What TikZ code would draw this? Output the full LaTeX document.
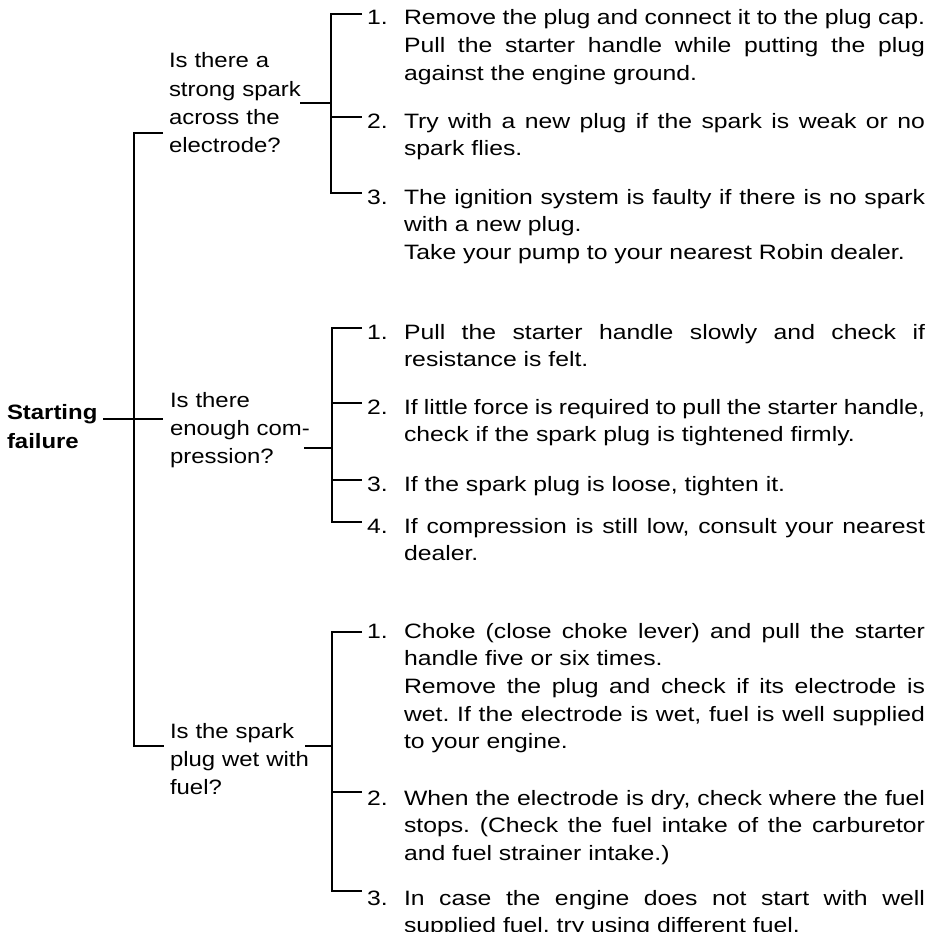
\documentclass[tikz,border=0pt]{standalone}
\usepackage{fontspec}
\newfontfamily\diagfont[FakeStretch=1.15]{Liberation Sans}
\newfontfamily\stepfont[FakeStretch=1.19]{Liberation Sans}
\usetikzlibrary{calc}
\newlength{\stepw}
\setlength{\stepw}{260.5pt}
\newcommand{\plainsp}{\spaceskip=0pt\xspaceskip=0pt\frenchspacing}
\newcommand{\jl}[1]{{\plainsp\makebox[\stepw][s]{#1}}}
\tikzset{
  txt/.style={inner sep=0pt,outer sep=0pt,anchor=base west,
    font=\stepfont\fontsize{10.4pt}{13.85pt}\selectfont},
  question/.style={txt,text width=#1,align=left,
    font=\diagfont\fontsize{10.4pt}{14.1pt}\selectfont},
  stepitem/.style={txt,text width=\stepw,align=justify,
    execute at begin node=\plainsp},
  rootbox/.style={txt,text width=45pt,align=left,
    font=\diagfont\bfseries\fontsize{10.4pt}{14.5pt}\selectfont}
}
\begin{document}
\begin{tikzpicture}[x=0.5pt,y=-0.5pt,line width=0.9pt]
		\useasboundingbox (0,0) rectangle (941,931);
		\node[rootbox] (start) at (7,419) {\mbox{Starting}\\\mbox{failure}};
		\node[question=65.5pt] (q1) at (169,68) {\mbox{Is there a}\\\mbox{strong spark}\\\mbox{across the}\\\mbox{electrode?}};
		\node[question=69pt] (q2) at (170,407) {\mbox{Is there}\\\mbox{enough com-}\\\mbox{pression?}};
		\node[question=68.5pt] (q3) at (170,738) {\mbox{Is the spark}\\\mbox{plug wet with}\\\mbox{fuel?}};
		\coordinate (j1) at (134,133);
		\coordinate (j3) at (134,746);
		\coordinate (b1) at (331,103);
		\coordinate (b2) at (332,448);
		\coordinate (b3) at (332,746);
		\draw ([xshift=-3pt]q1.west |- j1) -- (j1) -- (j3) -- ([xshift=-3pt]q3.west |- j3);
		\draw ([xshift=3pt]start.base east) -- ([xshift=-3.5pt]q2.west |- start.base);
		\draw (q1.east |- b1) -- (b1);
		\draw ([xshift=-2pt]q2.east |- b2) -- (b2);
		\draw ([xshift=-1pt]q3.east |- b3) -- (b3);
		% spark
		\node[txt] (n11) at (367,25) {1.};
		\node[stepitem] (s11) at (404,25) {Remove the plug and connect it to the plug cap.\\
			\jl{Pull the starter handle while putting the plug}\\
			against the engine ground.};
		\node[txt] (n12) at (367,128) {2.};
		\node[stepitem] (s12) at (404,128) {\jl{Try with a new plug if the spark is weak or no}\\
			spark flies.};
		\node[txt] (n13) at (367,204) {3.};
		\node[stepitem] (s13) at (404,204) {\jl{The ignition system is faulty if there is no spark}\\
			with a new plug.\\
			Take your pump to your nearest Robin dealer.};
		% compression
		\node[txt] (n21) at (367,339) {1.};
		\node[stepitem] (s21) at (404,339) {\jl{Pull the starter handle slowly and check if}\\
			resistance is felt.};
		\node[txt] (n22) at (367,414) {2.};
		\node[stepitem] (s22) at (404,414) {\jl{If little force is required to pull the starter handle,}\\
			check if the spark plug is tightened firmly.};
		\node[txt] (n23) at (367,491) {3.};
		\node[stepitem] (s23) at (404,491) {If the spark plug is loose, tighten it.};
		\node[txt] (n24) at (367,533) {4.};
		\node[stepitem] (s24) at (404,533) {\jl{If compression is still low, consult your nearest}\\
			dealer.};
		% fuel
		\node[txt] (n31) at (367,638) {1.};
		\node[stepitem] (s31) at (404,638) {\jl{Choke (close choke lever) and pull the starter}\\
			handle five or six times.\\
			\jl{Remove the plug and check if its electrode is}\\
			\jl{wet. If the electrode is wet, fuel is well supplied}\\
			to your engine.};
		\node[txt] (n32) at (367,805) {2.};
		\node[stepitem] (s32) at (404,805) {\jl{When the electrode is dry, check where the fuel}\\
			\jl{stops. (Check the fuel intake of the carburetor}\\
			and fuel strainer intake.)};
		\node[txt] (n33) at (367,905) {3.};
		\node[stepitem] (s33) at (404,905) {\jl{In case the engine does not start with well}\\
			supplied fuel, try using different fuel.};
		% brackets
		\draw ($(n11.base west)+(-5,-11)$) -| (b1) |- ($(n13.base west)+(-5,-11)$);
		\draw (b1 |- n12.base) ++(0,-11) -- ($(n12.base west)+(-5,-11)$);
		\draw ($(n21.base west)+(-5,-11)$) -| (b2) |- ($(n24.base west)+(-5,-11)$);
		\foreach \n in {n22,n23}
			\draw (b2 |- \n.base) ++(0,-11) -- ($(\n.base west)+(-5,-11)$);
		\draw ($(n31.base west)+(-5,-6)$) -| (b3) |- ($(n33.base west)+(-5,-14)$);
		\draw (b3 |- n32.base) ++(0,-13) -- ($(n32.base west)+(-5,-13)$);
\end{tikzpicture}
\end{document}
